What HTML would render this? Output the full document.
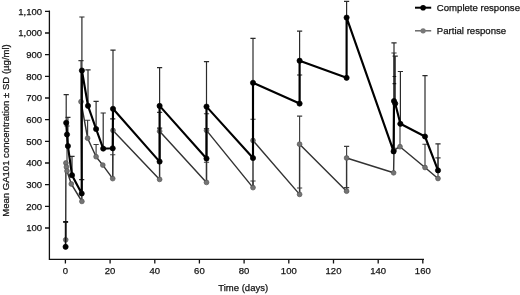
<!DOCTYPE html>
<html><head><meta charset="utf-8"><title>Mean GA101 concentration</title>
<style>
html,body{margin:0;padding:0;background:#fff;}
text{stroke:#111;stroke-width:0.25px;}
svg{display:block;filter:blur(0.35px);font-family:"Liberation Sans",Arial,sans-serif;}
</style></head><body>
<svg width="520" height="295" viewBox="0 0 520 295">
<rect width="520" height="295" fill="#fff"/>
<path d="M65.7 239.8V222.0M63.1 222.0H68.3M67.0 171.0V126.0M64.4 126.0H69.6M81.0 101.7V60.6M78.4 60.6H83.6M87.6 138.2V120.2M85.0 120.2H90.2M96.1 156.7V144.5M93.5 144.5H98.7M112.7 178.6V154.7M110.1 154.7H115.3M159.6 131.2V112.4M157.0 112.4H162.2M206.5 182.4V162.2M203.9 162.2H209.1M206.5 130.4V113.7M203.9 113.7H209.1M253.0 187.6V181.0M250.4 181.0H255.6M253.0 140.5V119.2M250.4 119.2H255.6M299.6 194.4V188.0M297.0 188.0H302.2M299.6 144.2V116.1M297.0 116.1H302.2M346.6 191.2V187.6M344.0 187.6H349.2M346.6 158.0V146.3M344.0 146.3H349.2M394.0 150.0V53.0M391.4 53.0H396.6M400.0 146.7V124.0M397.4 124.0H402.6M425.0 167.5V144.2M422.4 144.2H427.6M438.0 178.5V157.8M435.4 157.8H440.6" fill="none" stroke="#3e3e3e" stroke-width="1.15"/>
<path d="M66.2 122.8V94.7M63.6 94.7H68.8M67.9 146.0V117.3M65.3 117.3H70.5M72.0 175.2V156.4M69.4 156.4H74.6M81.7 193.5V179.7M79.1 179.7H84.3M81.9 70.5V17.0M79.3 17.0H84.5M88.0 105.8V69.9M85.4 69.9H90.6M96.1 129.0V101.4M93.5 101.4H98.7M103.2 148.6V113.0M100.6 113.0H105.8M112.7 148.3V118.8M110.1 118.8H115.3M113.0 108.8V50.2M110.4 50.2H115.6M159.6 161.6V128.2M157.0 128.2H162.2M159.6 105.9V67.7M157.0 67.7H162.2M206.5 158.5V128.6M203.9 128.6H209.1M206.5 106.6V61.7M203.9 61.7H209.1M253.0 82.8V38.4M250.4 38.4H255.6M299.6 103.6V75.0M297.0 75.0H302.2M299.6 60.7V31.1M297.0 31.1H302.2M346.6 17.6V1.3M344.0 1.3H349.2M394.0 101.0V42.8M391.4 42.8H396.6M395.2 103.5V56.1M392.6 56.1H397.8M400.4 123.8V71.5M397.8 71.5H403.0M425.0 136.5V75.6M422.4 75.6H427.6M438.0 170.4V143.8M435.4 143.8H440.6" fill="none" stroke="#2b2b2b" stroke-width="1.2"/>
<path d="M392.6 76.5H396.2M392.6 83.6H396.2" stroke="#111" stroke-width="1.2"/>
<path d="M65.7 239.8L65.9 163.0L66.4 167.0L67.0 171.0L71.3 184.0L81.9 201.4L81.0 101.7L87.6 138.2L96.1 156.7L102.8 165.1L112.7 178.6L113.0 130.4L159.6 179.4L159.6 131.2L206.5 182.4L206.5 130.4L253.0 187.6L253.0 140.5L299.6 194.4L299.6 144.2L346.6 191.2L346.6 158.0L393.6 172.8L394.0 150.0L400.0 146.7L425.0 167.5L438.0 178.5" fill="none" stroke="#333" stroke-width="1.45" stroke-linejoin="round"/>
<g fill="#747474" stroke="#555" stroke-width="0.7"><circle cx="65.7" cy="239.8" r="2.4"/><circle cx="65.9" cy="163.0" r="2.4"/><circle cx="66.4" cy="167.0" r="2.4"/><circle cx="67.0" cy="171.0" r="2.4"/><circle cx="71.3" cy="184.0" r="2.4"/><circle cx="81.9" cy="201.4" r="2.4"/><circle cx="81.0" cy="101.7" r="2.4"/><circle cx="87.6" cy="138.2" r="2.4"/><circle cx="96.1" cy="156.7" r="2.4"/><circle cx="102.8" cy="165.1" r="2.4"/><circle cx="112.7" cy="178.6" r="2.4"/><circle cx="113.0" cy="130.4" r="2.4"/><circle cx="159.6" cy="179.4" r="2.4"/><circle cx="159.6" cy="131.2" r="2.4"/><circle cx="206.5" cy="182.4" r="2.4"/><circle cx="206.5" cy="130.4" r="2.4"/><circle cx="253.0" cy="187.6" r="2.4"/><circle cx="253.0" cy="140.5" r="2.4"/><circle cx="299.6" cy="194.4" r="2.4"/><circle cx="299.6" cy="144.2" r="2.4"/><circle cx="346.6" cy="191.2" r="2.4"/><circle cx="346.6" cy="158.0" r="2.4"/><circle cx="393.6" cy="172.8" r="2.4"/><circle cx="394.0" cy="150.0" r="2.4"/><circle cx="400.0" cy="146.7" r="2.4"/><circle cx="425.0" cy="167.5" r="2.4"/><circle cx="438.0" cy="178.5" r="2.4"/></g>
<path d="M66.2 122.8L67.0 134.5L67.9 146.0L72.0 175.2L81.7 193.5L81.9 70.5L88.0 105.8L96.1 129.0L103.2 148.6L112.7 148.3L113.0 108.8L159.6 161.6L159.6 105.9L206.5 158.5L206.5 106.6L253.0 158.0L253.0 82.8L299.6 103.6L299.6 60.7L346.6 77.8L346.6 17.6L393.6 151.4L394.0 101.0L395.2 103.5L400.4 123.8L425.0 136.5L438.0 170.4" fill="none" stroke="#000" stroke-width="2.15" stroke-linejoin="round"/>
<path d="M65.6 246.8V221.9M63.2 221.9H68" stroke="#111" stroke-width="1.6" fill="none"/>
<g fill="#000" stroke="#000" stroke-width="0.7"><circle cx="65.6" cy="246.8" r="2.6"/><circle cx="66.2" cy="122.8" r="2.6"/><circle cx="67.0" cy="134.5" r="2.6"/><circle cx="67.9" cy="146.0" r="2.6"/><circle cx="72.0" cy="175.2" r="2.6"/><circle cx="81.7" cy="193.5" r="2.6"/><circle cx="81.9" cy="70.5" r="2.6"/><circle cx="88.0" cy="105.8" r="2.6"/><circle cx="96.1" cy="129.0" r="2.6"/><circle cx="103.2" cy="148.6" r="2.6"/><circle cx="112.7" cy="148.3" r="2.6"/><circle cx="113.0" cy="108.8" r="2.6"/><circle cx="159.6" cy="161.6" r="2.6"/><circle cx="159.6" cy="105.9" r="2.6"/><circle cx="206.5" cy="158.5" r="2.6"/><circle cx="206.5" cy="106.6" r="2.6"/><circle cx="253.0" cy="158.0" r="2.6"/><circle cx="253.0" cy="82.8" r="2.6"/><circle cx="299.6" cy="103.6" r="2.6"/><circle cx="299.6" cy="60.7" r="2.6"/><circle cx="346.6" cy="77.8" r="2.6"/><circle cx="346.6" cy="17.6" r="2.6"/><circle cx="393.6" cy="151.4" r="2.6"/><circle cx="394.0" cy="101.0" r="2.6"/><circle cx="395.2" cy="103.5" r="2.6"/><circle cx="400.4" cy="123.8" r="2.6"/><circle cx="425.0" cy="136.5" r="2.6"/><circle cx="438.0" cy="170.4" r="2.6"/></g>
<path d="M49.4 10.6V259.4H424M45 228.0H49.4M45 206.3H49.4M45 184.7H49.4M45 163.0H49.4M45 141.3H49.4M45 119.6H49.4M45 98.0H49.4M45 76.3H49.4M45 54.6H49.4M45 33.0H49.4M45 11.3H49.4M65.4 259.4V263.4M110.1 259.4V263.4M154.8 259.4V263.4M199.4 259.4V263.4M244.1 259.4V263.4M288.8 259.4V263.4M333.5 259.4V263.4M378.2 259.4V263.4M422.8 259.4V263.4" fill="none" stroke="#111" stroke-width="1.3"/>
<g font-size="9.5px" fill="#151515" text-anchor="end"><text x="42" y="231.2">100</text><text x="42" y="209.5">200</text><text x="42" y="187.9">300</text><text x="42" y="166.2">400</text><text x="42" y="144.5">500</text><text x="42" y="122.8">600</text><text x="42" y="101.2">700</text><text x="42" y="79.5">800</text><text x="42" y="57.8">900</text><text x="42" y="36.2">1,000</text><text x="42" y="14.5">1,100</text></g>
<g font-size="9.5px" fill="#151515" text-anchor="middle"><text x="65.4" y="274.1">0</text><text x="110.1" y="274.1">20</text><text x="154.8" y="274.1">40</text><text x="199.4" y="274.1">60</text><text x="244.1" y="274.1">80</text><text x="288.8" y="274.1">100</text><text x="333.5" y="274.1">120</text><text x="378.2" y="274.1">140</text><text x="422.8" y="274.1">160</text></g>
<text x="243.2" y="291.4" font-size="9.5px" fill="#151515" text-anchor="middle">Time (days)</text>
<text transform="translate(8.5,130.5) rotate(-90)" font-size="9.55px" fill="#151515" text-anchor="middle">Mean GA101 concentration ± SD (µg/ml)</text>
<path d="M415 7.7H431.2" stroke="#000" stroke-width="2"/><circle cx="423.1" cy="7.7" r="2.8" fill="#000"/>
<text x="436.8" y="10.9" font-size="9.6px" fill="#151515">Complete response</text>
<path d="M415 30.8H431.2" stroke="#5f5f5f" stroke-width="1.4"/><circle cx="423.1" cy="30.8" r="2.6" fill="#787878"/>
<text x="436.8" y="34" font-size="9.6px" fill="#151515">Partial response</text>
</svg>
</body></html>
